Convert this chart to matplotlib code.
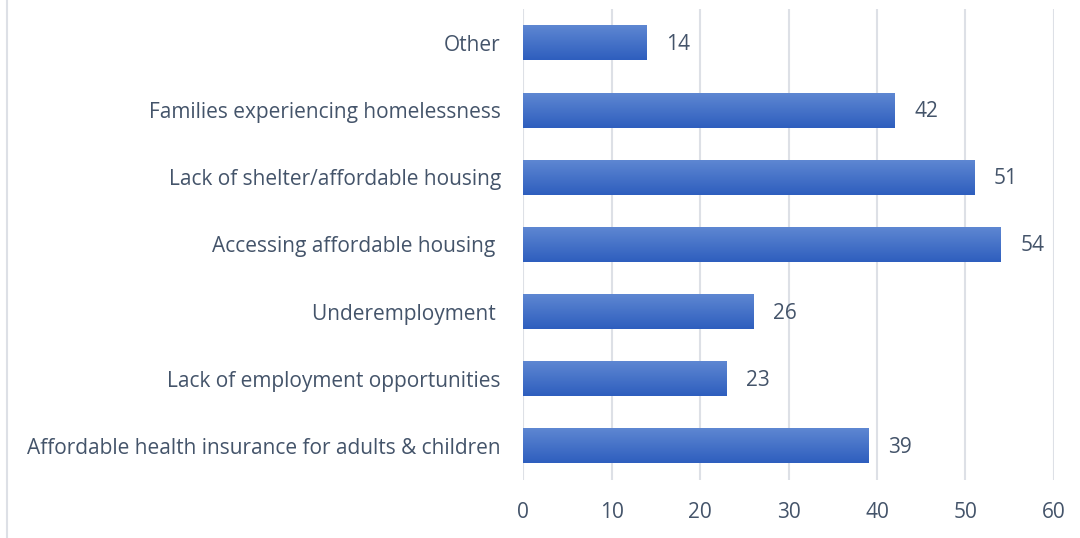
import matplotlib
matplotlib.use("Agg")
import matplotlib.pyplot as plt
import numpy as np
from matplotlib.lines import Line2D
from matplotlib.colors import LinearSegmentedColormap

categories = [
    "Affordable health insurance for adults & children",
    "Lack of employment opportunities",
    "Underemployment ",
    "Accessing affordable housing ",
    "Lack of shelter/affordable housing",
    "Families experiencing homelessness",
    "Other",
]
values = [39, 23, 26, 54, 51, 42, 14]
xticks = [0, 10, 20, 30, 40, 50, 60]

TEXT = "#44546A"
GRID = "#DDE0E6"
FS = 15

plt.rcParams['font.family'] = ['Open Sans', 'DejaVu Sans']

fig = plt.figure(figsize=(10.8, 5.38), dpi=100)
ax = fig.add_axes([0.4843, 0.1086, 0.4916, 0.8739])

y = np.arange(len(categories))
bars = ax.barh(y, values, height=0.52, color="#4472C4", zorder=2)

# gradient fill for each bar (lighter at top, darker at bottom)
grad = np.linspace(0, 1, 256).reshape(-1, 1)
cmap = LinearSegmentedColormap.from_list("g", ["#5E87D2", "#2E5EBE"])
for b in bars:
    x0, y0 = b.get_x(), b.get_y()
    w, h = b.get_width(), b.get_height()
    ax.imshow(grad, cmap=cmap, aspect="auto", origin="lower",
              extent=[x0, x0 + w, y0 + h, y0], zorder=3)
    b.set_facecolor("none")

ax.set_xlim(0, 60)
ax.set_ylim(-0.5, len(categories) - 0.5)
ax.set_xticks(xticks)
ax.set_yticks(y)
ax.set_yticklabels(categories)
ax.xaxis.grid(True, color=GRID, linewidth=1.5, zorder=0)
ax.set_axisbelow(True)
for s in ax.spines.values():
    s.set_visible(False)
ax.tick_params(axis="both", length=0, labelsize=FS, labelcolor=TEXT)
ax.tick_params(axis="x", pad=16)
ax.tick_params(axis="y", pad=16)

for b, v in zip(bars, values):
    ax.annotate(f"{v}", xy=(b.get_width(), b.get_y() + b.get_height() / 2),
                xytext=(14, -1), textcoords="offset points",
                va="center", ha="left", fontsize=FS, color=TEXT, zorder=4)

fig.add_artist(Line2D([7 / 1080, 7 / 1080], [0, 1], color=GRID, linewidth=1.5))

fig.savefig("out.png", dpi=100)
